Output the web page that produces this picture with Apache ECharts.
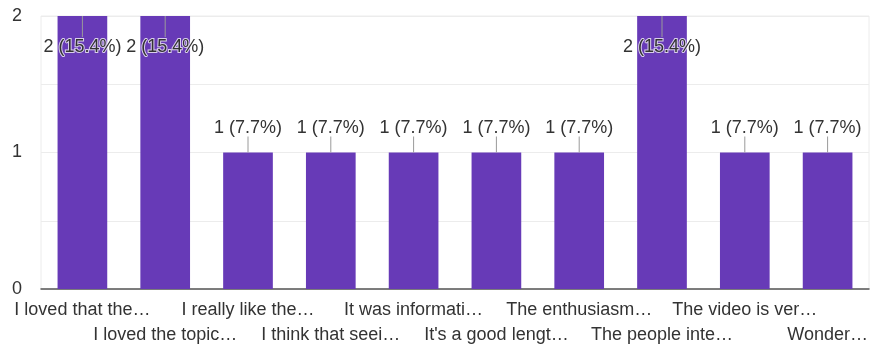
<!DOCTYPE html>
<html>
<head>
<meta charset="utf-8">
<script src="https://cdn.jsdelivr.net/npm/echarts@6/dist/echarts.min.js"></script>
<style>
html,body{margin:0;padding:0;background:#fff;}
#chart{width:873px;height:350px;}
</style>
</head>
<body>
<div id="chart"></div>
<script>
const categories = [
  "I loved that the…",
  "I loved the topic…",
  "I really like the…",
  "I think that seei…",
  "It was informati…",
  "It's a good lengt…",
  "The enthusiasm…",
  "The people inte…",
  "The video is ver…",
  "Wonder…"
];
const counts = [2, 2, 1, 1, 1, 1, 1, 2, 1, 1];
const yTicks = [0, 1, 2];

const yMax = 2;
const total = counts.reduce((a, b) => a + b, 0);
const FONT = '"Liberation Sans", Arial, sans-serif';
const FS = 18;

function labelText(v) {
  return v + ' (' + (Math.round(v / total * 1000) / 10).toFixed(1) + '%)';
}

const barData = counts.map(v => {
  const atTop = v >= yMax;
  return {
    value: v,
    label: atTop ? {
      position: 'insideTop',
      distance: 22,
      textBorderColor: 'rgba(255,255,255,0.75)',
      textBorderWidth: 2
    } : {
      position: 'top',
      distance: 15
    }
  };
});

const chart = echarts.init(document.getElementById('chart'), null, {renderer: 'canvas'});
chart.setOption({
  animation: false,
  backgroundColor: '#fff',
  grid: {
    left: 41, right: 4, top: 16, bottom: 61,
    show: true, borderColor: '#ececec', borderWidth: 1
  },
  xAxis: {
    type: 'category',
    data: categories,
    axisTick: {show: false},
    axisLine: {lineStyle: {color: '#555', width: 1.5}},
    axisLabel: {
      interval: 0,
      margin: 9,
      color: '#333',
      fontFamily: FONT,
      fontSize: FS,
      lineHeight: 25,
      formatter: (val, idx) => (idx % 2 === 1 ? '\n' + val : val)
    }
  },
  yAxis: {
    type: 'value',
    min: 0,
    max: yMax,
    interval: 0.5,
    axisLine: {show: false},
    axisTick: {show: false},
    splitLine: {lineStyle: {color: '#ececec', width: 1}},
    axisLabel: {
      margin: 19,
      color: '#333',
      fontFamily: FONT,
      fontSize: FS,
      formatter: v => (yTicks.indexOf(v) >= 0 ? String(v) : '')
    }
  },
  series: [
    {
      type: 'bar',
      data: barData,
      barWidth: '60%',
      itemStyle: {color: '#673ab7'},
      z: 2,
      label: {
        show: true,
        color: '#333',
        fontFamily: FONT,
        fontSize: FS,
        formatter: p => labelText(p.value)
      }
    },
    {
      type: 'custom',
      z: 3,
      silent: true,
      data: counts.map((v, i) => [i, v]),
      renderItem: function (params, api) {
        const v = api.value(1);
        const p = api.coord([api.value(0), v]);
        const atTop = v >= yMax;
        return {
          type: 'line',
          shape: {x1: p[0], y1: p[1], x2: p[0], y2: atTop ? p[1] + 21 : p[1] - 16},
          style: {stroke: '#9a9a9a', lineWidth: 1}
        };
      }
    }
  ]
});
</script>
</body>
</html>
